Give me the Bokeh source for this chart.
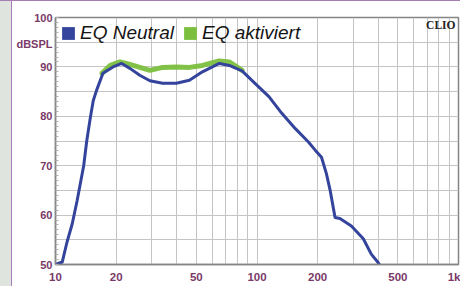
from bokeh.plotting import figure
from bokeh.layouts import row
from bokeh.models import (FixedTicker, Legend, LegendItem, Label, Range1d,
                          CustomJSTickFormatter, Spacer)
from bokeh.embed import file_html
from bokeh.resources import INLINE

# ---- data ----
blue_f = [10, 10.8, 11.4, 12.1, 12.8, 13.8, 14.3, 14.9, 15.4, 16.0, 17.2, 19.3,
          21.3, 23.4, 26.2, 29.4, 34.0, 39.8, 46.2, 53.6, 65.0, 72.8, 84.3, 98.6,
          114.6, 132.8, 155, 180, 195, 209, 221, 231, 234, 244, 258, 294, 337,
          369, 399, 405]
blue_db = [50, 50.5, 54.5, 58.2, 62.9, 70.0, 75.1, 79.8, 83.2, 85.3, 88.7, 90.0,
           90.7, 89.7, 88.3, 87.2, 86.7, 86.7, 87.3, 89.0, 90.7, 90.3, 89.2, 86.5,
           84.0, 80.6, 77.5, 74.8, 73.1, 71.7, 68.4, 64.9, 63.6, 59.5, 59.3, 57.8,
           55.2, 52.1, 50.4, 50.0]

green_f = [17.0, 18.7, 20.9, 23.4, 26.2, 29.4, 34.0, 39.8, 46.2, 53.6, 65.0,
           72.8, 81.5, 84.3]
green_db = [88.7, 90.3, 91.0, 90.5, 89.9, 89.3, 89.9, 90.0, 89.9, 90.3, 91.2,
            91.0, 89.7, 89.3]

x_tick_values = [10, 20, 50, 100, 200, 500, 1000]
x_grid_values = [10, 20, 30, 40, 50, 60, 70, 80, 90, 100, 200, 300, 400, 500,
                 600, 700, 800, 900, 1000]
y_tick_values = [50, 60, 70, 80, 90, 94.6, 100]   # 94.6 carries the unit label
y_grid_values = [50, 55, 60, 65, 70, 75, 80, 85, 90, 95, 100]
y_minor_values = list(range(50, 101))
unit_label = "dBSPL"

series_names = ["EQ Neutral", "EQ aktiviert"]
BLUE = "#34449c"
GREEN = "#7cbf3e"
LABEL_COLOR = "#7a3a68"
FRAME = "#858585"
nan = float("nan")

p = figure(width=448, height=285, x_axis_type="log",
           x_range=Range1d(10, 1000), y_range=Range1d(50, 100),
           output_backend="svg", toolbar_location=None,
           min_border_left=43, min_border_right=2, min_border_top=16,
           min_border_bottom=22, background_fill_color="white",
           border_fill_color="white", outline_line_color=FRAME,
           outline_line_width=1.5)

# grids
p.xgrid.ticker = FixedTicker(ticks=x_grid_values)
p.ygrid.ticker = FixedTicker(ticks=y_grid_values)
p.xgrid.grid_line_color = "#c4c4c4"
p.ygrid.grid_line_color = "#c4c4c4"

# x axis
p.xaxis.ticker = FixedTicker(ticks=x_tick_values)
p.xaxis.formatter = CustomJSTickFormatter(
    code="return tick >= 1000 ? (tick/1000) + 'k' : tick.toFixed(0);")
p.xaxis.major_tick_line_color = None
p.xaxis.minor_tick_line_color = None
p.xaxis.major_tick_out = 0
p.xaxis.minor_tick_out = 0
p.xaxis.major_tick_in = 0
p.xaxis.axis_line_color = FRAME
p.xaxis.axis_line_width = 1.5
p.xaxis.major_label_standoff = 6
p.xaxis.major_label_text_font = "Liberation Sans"
p.xaxis.major_label_text_font_style = "bold"
p.xaxis.major_label_text_font_size = "11.5px"
p.xaxis.major_label_text_color = LABEL_COLOR

# y axis
p.yaxis.ticker = FixedTicker(ticks=y_tick_values, minor_ticks=y_minor_values)
p.yaxis.formatter = CustomJSTickFormatter(
    args=dict(unit=unit_label),
    code="return Math.abs(tick - 94.6) < 0.01 ? unit : tick.toFixed(0);")
p.yaxis.major_tick_line_color = None
p.yaxis.major_tick_out = 0
p.yaxis.major_tick_in = 0
p.yaxis.minor_tick_in = 3
p.yaxis.minor_tick_out = 0
p.yaxis.minor_tick_line_color = "#b0b0b0"
p.yaxis.axis_line_color = FRAME
p.yaxis.axis_line_width = 1.5
p.yaxis.major_label_standoff = 3
p.yaxis.major_label_text_font = "Liberation Sans"
p.yaxis.major_label_text_font_style = "bold"
p.yaxis.major_label_text_font_size = "11px"
p.yaxis.major_label_text_color = LABEL_COLOR

# curves
p.line(green_f, green_db, line_color=GREEN, line_width=5, line_alpha=0.95,
       line_join="round", line_cap="round")
p.line(blue_f, blue_db, line_color=BLUE, line_width=3,
       line_join="round", line_cap="round")

# legend squares (legend-only renderers, no visible data)
rb = p.quad(left=[nan], right=[nan], top=[nan], bottom=[nan],
            fill_color=BLUE, line_color=None)
rg = p.quad(left=[nan], right=[nan], top=[nan], bottom=[nan],
            fill_color=GREEN, line_color=None)
legend = Legend(items=[LegendItem(label=series_names[0], renderers=[rb]),
                       LegendItem(label=series_names[1], renderers=[rg])],
                orientation="horizontal", location=(5, 220), margin=0,
                padding=5, spacing=8, label_standoff=4, glyph_width=16,
                glyph_height=16, label_text_font="Liberation Sans",
                label_text_font_style="italic", label_text_font_size="19px",
                label_text_color="#151515", background_fill_alpha=0,
                border_line_color=None)
p.add_layout(legend)

# CLIO mark
p.add_layout(Label(x=1000, y=100, x_offset=-3, y_offset=-1, text="CLIO",
                   text_align="right", text_baseline="top",
                   text_font="Liberation Serif", text_font_style="bold",
                   text_font_size="11.5px", text_color="#222222"))

strip = Spacer(width=12, height=285,
               styles={"background-color": "#dfe4de",
                       "border-right": "1px solid #a77db3",
                       "box-sizing": "border-box"})
layout = row(strip, p, spacing=0,
             styles={"border-top": "1px solid #a77db3"})

open("out.html", "w").write(file_html(layout, INLINE))
